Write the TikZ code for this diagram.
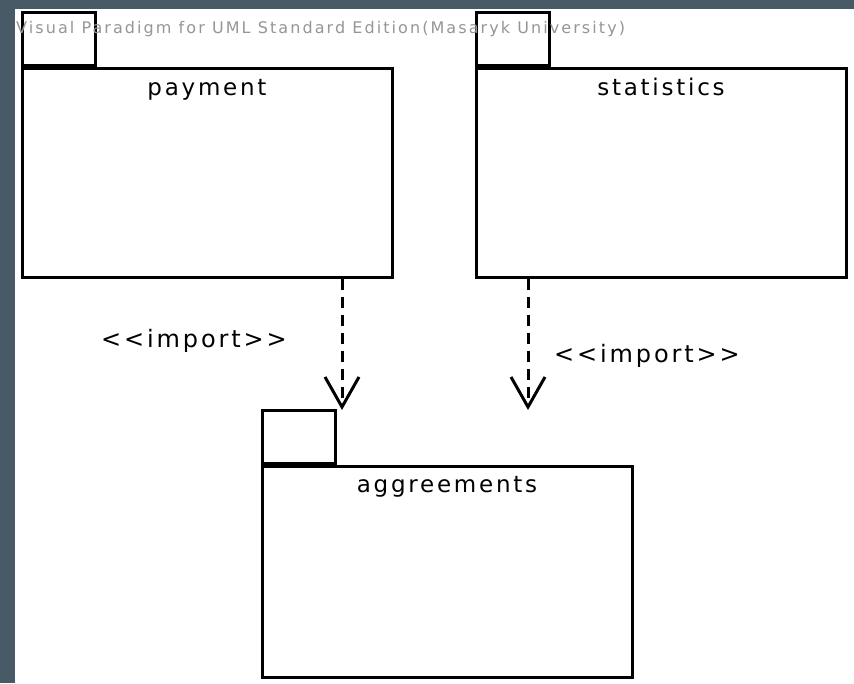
\documentclass[tikz,border=0pt]{standalone}
\usepackage{fontspec}
\setmainfont{DejaVu Sans}[Ligatures=TeXOff]
\newfontfamily\lblfont{DejaVu Sans}[Ligatures=TeXOff, LetterSpace=12]
\newfontfamily\stfont{DejaVu Sans}[Ligatures=TeXOff, LetterSpace=12]
\newfontfamily\wmfont{DejaVu Sans}[Ligatures=TeXOff, LetterSpace=13]
\usetikzlibrary{arrows.meta}
\definecolor{slate}{RGB}{71,90,102}
\definecolor{wm}{RGB}{150,150,150}
\begin{document}
\begin{tikzpicture}[x=1pt,y=-1pt,
  pkgbody/.style={draw=black, line width=3pt, fill=white, inner sep=0pt, minimum width=370pt},
  pkgtab/.style={draw=black, line width=3pt, fill=white, inner sep=0pt, minimum width=73pt, minimum height=53pt, anchor=south west},
  pkgname/.style={font=\lblfont\fontsize{23}{25}\selectfont, anchor=base, inner sep=0pt},
  stereo/.style={font=\stfont\fontsize{24}{26}\selectfont, anchor=base, inner sep=0pt},
  dep/.style={line width=3pt, dash pattern=on 11pt off 7pt, -{Straight Barb[length=30pt,width=34pt,line width=3pt]}}
]
\fill[slate] (0,0) rectangle (854,683);
\fill[white] (15,9) rectangle (854,683);
\useasboundingbox (0,0) rectangle (854,683);

% packages
\node[pkgbody, minimum height=209pt] (payment) at (207,172.5) {};
\node[pkgtab] (paytab) at (payment.north west) {};
\node[pkgname] (paylbl) at (207,95) {payment};

\node[pkgbody, minimum height=209pt] (statistics) at (661,172.5) {};
\node[pkgtab] (stattab) at (statistics.north west) {};
\node[pkgname] (statlbl) at (661,95) {statistics};

\node[pkgbody, minimum height=211pt] (aggreements) at (447,571.5) {};
\node[pkgtab] (aggtab) at (aggreements.north west) {};
\node[pkgname] (agglbl) at (447,492) {aggreements};

% watermark
\node[text=wm, font=\wmfont\fontsize{16}{18}\selectfont, anchor=base west, inner sep=0pt] (wmark) at (16,33) {Visual Paradigm for UML Standard Edition(Masaryk University)};

% dependencies
\coordinate (t1) at (342,410);
\coordinate (t2) at (528,410);
\draw[dep] (payment.south -| t1) -- (t1);
\draw[dep] (statistics.south -| t2) -- (t2);

\node[stereo] (imp1) at (194,347) {<<import>>};
\node[stereo] (imp2) at (647,362) {<<import>>};
\end{tikzpicture}
\end{document}
